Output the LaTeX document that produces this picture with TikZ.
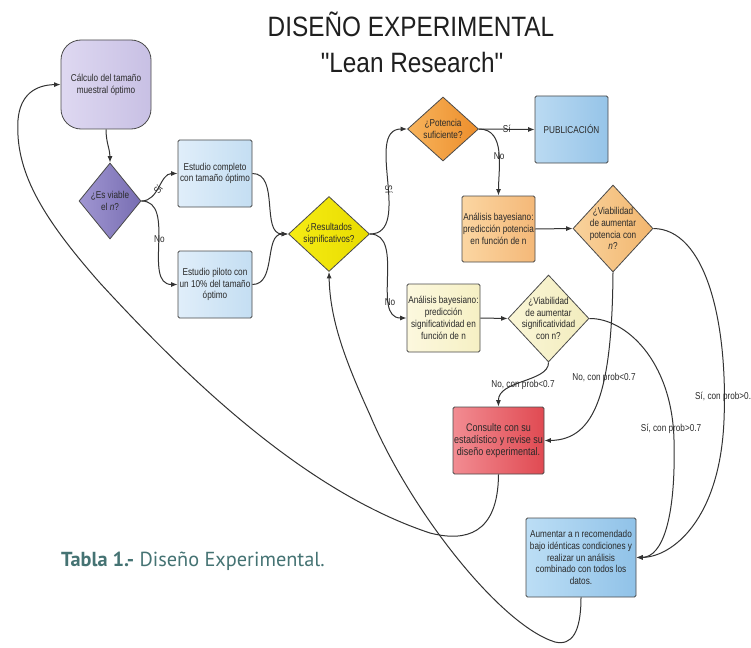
\documentclass[tikz,border=0pt]{standalone}
\usepackage{fontspec}
\setmainfont{Liberation Sans}
\newfontfamily\nodefont{Liberation Sans}[FakeStretch=0.82]
\newfontfamily\titlefont{Liberation Sans}[FakeStretch=0.87]
\newfontfamily\capfont{PT Sans}
\usetikzlibrary{shapes.geometric,arrows.meta}
\definecolor{bordc}{HTML}{4A4A4A}
\definecolor{linec}{HTML}{333333}
\definecolor{txtc}{HTML}{2A2A2A}
\definecolor{capc}{HTML}{457373}
\definecolor{calcA}{HTML}{DED8F1}\definecolor{calcB}{HTML}{C8C0E4}
\definecolor{evA}{HTML}{A096D2}\definecolor{evB}{HTML}{786EB2}
\definecolor{stA}{HTML}{E0EEFA}\definecolor{stB}{HTML}{C4DEF2}
\definecolor{resA}{HTML}{F6EC14}\definecolor{resB}{HTML}{E8DC00}
\definecolor{potA}{HTML}{F8B45C}\definecolor{potB}{HTML}{EC8E2C}
\definecolor{pubA}{HTML}{BADAF2}\definecolor{pubB}{HTML}{96C4E8}
\definecolor{apA}{HTML}{FBD6A2}\definecolor{apB}{HTML}{F4B878}
\definecolor{vpA}{HTML}{F9D29C}\definecolor{vpB}{HTML}{F2B66E}
\definecolor{asA}{HTML}{FCF8DE}\definecolor{asB}{HTML}{F6F0C4}
\definecolor{vsA}{HTML}{FAF6D6}\definecolor{vsB}{HTML}{F2ECBE}
\definecolor{csA}{HTML}{F28C92}\definecolor{csB}{HTML}{E04A52}
\definecolor{auA}{HTML}{BCDEF5}\definecolor{auB}{HTML}{90C2E8}
\begin{document}
\begin{tikzpicture}[x=1pt,y=-1pt,
  box/.style={draw=bordc, line width=0.8pt, rounded corners=1.5pt, align=center,
    font=\nodefont\fontsize{10}{11.8}\selectfont, text=txtc, inner sep=1pt},
  dia/.style={diamond, draw=bordc, line width=0.8pt, inner sep=0pt},
  dlab/.style={anchor=center, align=center, inner sep=0pt,
    font=\nodefont\fontsize{10}{11.8}\selectfont, text=txtc},
  conn/.style={draw=linec, line width=1pt, -{Latex[length=6.5pt,width=5pt]}},
  elab/.style={font=\nodefont\fontsize{10}{12}\selectfont, text=txtc, inner sep=1pt}
]
\useasboundingbox (0,0) rectangle (751,647);
\fill[white] (0,0) rectangle (751,647);

% titles
\node[font=\titlefont\fontsize{28}{30}\selectfont, text=black!88, anchor=base] (t1) at (411,37) {DISEÑO EXPERIMENTAL};
\node[font=\titlefont\fontsize{28}{30}\selectfont, text=black!88, anchor=base] (t2) at (412,73) {"Lean Research"};

% nodes
\node[box, rounded corners=20pt, minimum width=90pt, minimum height=89pt,
  left color=calcA, right color=calcB] (calc) at (106,84.5)
  {Cálculo del tamaño\\muestral óptimo};

\node[dia, minimum width=62pt, minimum height=76pt, left color=evA, right color=evB,
  label={[dlab]center:{¿Es viable\\el \textit{n}?}}] (ev) at (110,201) {};

\node[box, minimum width=74pt, minimum height=67pt, left color=stA, right color=stB] (ec) at (215,173.5)
  {Estudio completo\\con tamaño óptimo};

\node[box, minimum width=74pt, minimum height=67pt, left color=stA, right color=stB] (ep) at (215,284.5)
  {Estudio piloto con\\un 10\% del tamaño\\óptimo};

\node[dia, minimum width=81pt, minimum height=75pt, left color=resA, right color=resB,
  label={[dlab]center:{¿Resultados\\significativos?}}] (res) at (329,234) {};

\node[dia, minimum width=71pt, minimum height=64pt, left color=potA, right color=potB,
  label={[dlab]center:{¿Potencia\\suficiente?}}] (pot) at (443,129) {};

\node[box, minimum width=73pt, minimum height=67pt, left color=pubA, right color=pubB] (pub) at (571.5,129.5)
  {PUBLICACIÓN};

\node[box, minimum width=73pt, minimum height=66pt, left color=apA, right color=apB] (ap) at (498.5,229)
  {Análisis bayesiano:\\predicción potencia\\en función de n};

\node[dia, minimum width=80pt, minimum height=87pt, left color=vpA, right color=vpB,
  label={[dlab]center:{¿Viabilidad\\de aumentar\\potencia con\\\textit{n}?}}] (vp) at (613,228.5) {};

\node[box, minimum width=73pt, minimum height=68pt, left color=asA, right color=asB] (as) at (443.5,318)
  {Análisis bayesiano:\\predicción\\significatividad en\\función de n};

\node[dia, minimum width=81pt, minimum height=87pt, left color=vsA, right color=vsB,
  label={[dlab]center:{¿Viabilidad\\de aumentar\\significatividad\\con n?}}] (vs) at (548.5,318.5) {};

\node[box, minimum width=91pt, minimum height=67pt, font=\nodefont\fontsize{11}{12}\selectfont,
  left color=csA, right color=csB] (cs) at (498.5,440.5)
  {Consulte con su\\estadístico y revise su\\diseño experimental.};

\node[box, minimum width=110pt, minimum height=79pt, left color=auA, right color=auB] (au) at (581,557.5)
  {Aumentar a n recomendado\\bajo idénticas condiciones y\\realizar un análisis\\combinado con todos los\\datos.};

% connectors
\draw[conn] (calc.south) to[out=-90,in=90] (ev.north);
\draw[conn] (ev.east) to[out=0,in=180] node[elab, sloped, pos=0.45] {Sí} (ec.west);
\draw[conn] (ev.east) to[out=0,in=180] node[elab, pos=0.47] {No} (ep.west);
\draw[conn] (ec.east) to[out=0,in=180] (res.west);
\draw[conn] (ep.east) to[out=0,in=180] (res.west);
\draw[conn] (res.east) to[out=0,in=180] node[elab, sloped, pos=0.45] {Sí} (pot.west);
\draw[conn] (res.east) to[out=0,in=180] node[elab, pos=0.72] {No} (as.west);
\draw[conn] (pot.east) -- node[elab, pos=0.5] {Sí} (pub.west);
\draw[conn] (pot.east) to[out=0,in=90] node[elab, pos=0.55] {No} (ap.north);
\draw[conn] (ap.east) -- (vp.west);
\draw[conn] (as.east) -- (vs.west);

\draw[conn] (vp.east) .. controls (705,229) and (728,320) .. (724,420)
  .. controls (720,520) and (672,557) .. (au.east);
\node[elab, anchor=west] (l1) at (694,397) {Sí, con prob>0.};

\draw[conn] (vs.east) .. controls (625,318) and (672,360) .. (674,440)
  .. controls (676,520) and (662,557) .. (au.east);
\node[elab] (l2) at (671,429) {Sí, con prob>0.7};

\draw[conn] (vp.south) .. controls (612,390) and (596,440) .. (cs.east);
\node[elab] (l3) at (604,378) {No, con prob<0.7};

\draw[conn] (vs.south) .. controls (549,382) and (498,380) .. (cs.north);
\node[elab] (l4) at (523,385) {No, con prob<0.7};

\draw[conn] (cs.south) .. controls (498,535) and (465,542) .. (430,533)
  .. controls (300,490) and (180,370) .. (100,283)
  .. controls (40,215) and (15,170) .. (18,120)
  .. controls (20,95) and (35,85) .. (calc.west);

\draw[conn] (au.south) .. controls (581,632) and (572,646) .. (555,642)
  .. controls (500,625) and (410,510) .. (370,415)
  .. controls (345,360) and (330,320) .. (res.south);

% caption
\node[anchor=base west, inner sep=0pt, text=capc, font=\capfont\fontsize{20.3}{22}\selectfont] (cap) at (61,566)
  {\textbf{Tabla 1.-} Diseño Experimental.};
\end{tikzpicture}
\end{document}
